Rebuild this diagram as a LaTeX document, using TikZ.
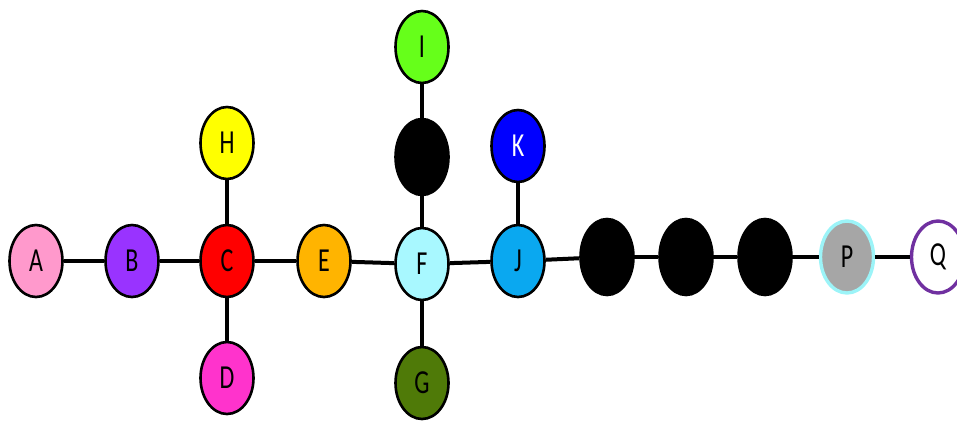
\documentclass[tikz,border=0pt]{standalone}
\usepackage{fontspec}
\setmainfont{Carlito}
\usetikzlibrary{shapes.geometric}
\definecolor{cA}{HTML}{FF99CC}
\definecolor{cB}{HTML}{9933FF}
\definecolor{cC}{HTML}{FF0000}
\definecolor{cD}{HTML}{FF33CC}
\definecolor{cE}{HTML}{FFB400}
\definecolor{cF}{HTML}{A8F8FF}
\definecolor{cG}{HTML}{4F7A08}
\definecolor{cH}{HTML}{FFFF00}
\definecolor{cI}{HTML}{66FF1A}
\definecolor{cJ}{HTML}{0AA8F0}
\definecolor{cK}{HTML}{0000FF}
\definecolor{cP}{HTML}{A6A6A6}
\definecolor{cPb}{HTML}{9CF4F8}
\definecolor{cQb}{HTML}{7030A0}
\newcommand{\lbl}[1]{\scalebox{1}[1.4]{\fontsize{24}{24}\selectfont #1}}
\tikzset{
  vtx/.style={ellipse, draw=black, line width=2.6pt, minimum width=53pt, minimum height=72pt, inner sep=0pt},
  blk/.style={vtx, fill=black, minimum height=76pt},
  edge/.style={line width=4pt, black}
}
\begin{document}
\begin{tikzpicture}[x=1pt,y=-1pt]
\useasboundingbox (0,0) rectangle (957,421);
% nodes
\node[vtx, fill=cA] (A) at (36,261) {\lbl{A}};
\node[vtx, fill=cB] (B) at (132,261) {\lbl{B}};
\node[vtx, fill=cC] (C) at (227,261) {\lbl{C}};
\node[vtx, fill=cH] (H) at (227,143) {\lbl{H}};
\node[vtx, fill=cD] (D) at (227,378) {\lbl{D}};
\node[vtx, fill=cE] (E) at (324,261) {\lbl{E}};
\node[vtx, fill=cF] (F) at (422,264) {\lbl{F}};
\node[vtx, fill=cI] (I) at (422,47) {\lbl{I}};
\node[blk] (X1) at (422,157) {};
\node[vtx, fill=cG] (G) at (422,383) {\lbl{G}};
\node[vtx, fill=cJ] (J) at (518,261) {\lbl{J}};
\node[vtx, fill=cK] (K) at (518,146) {\textcolor{white}{\lbl{K}}};
\node[blk] (X2) at (607,257) {};
\node[blk] (X3) at (686,257) {};
\node[blk] (X4) at (765,257) {};
\node[vtx, fill=cP, draw=cPb, line width=3.4pt] (P) at (847,257) {\lbl{P}};
\node[vtx, fill=white, draw=cQb, line width=3.4pt] (Q) at (938,257) {\lbl{Q}};
% edges
\draw[edge] (A) -- (B);
\draw[edge] (B) -- (C);
\draw[edge] (C) -- (E);
\draw[edge] (H) -- (C);
\draw[edge] (C) -- (D);
\draw[edge] (E) -- (F);
\draw[edge] (I) -- (X1);
\draw[edge] (X1) -- (F);
\draw[edge] (F) -- (G);
\draw[edge] (F) -- (J);
\draw[edge] (K) -- (J);
\draw[edge] (J) -- (X2);
\draw[edge] (X2) -- (X3);
\draw[edge] (X3) -- (X4);
\draw[edge] (X4) -- (P);
\draw[edge] (P) -- (Q);
\end{tikzpicture}
\end{document}
